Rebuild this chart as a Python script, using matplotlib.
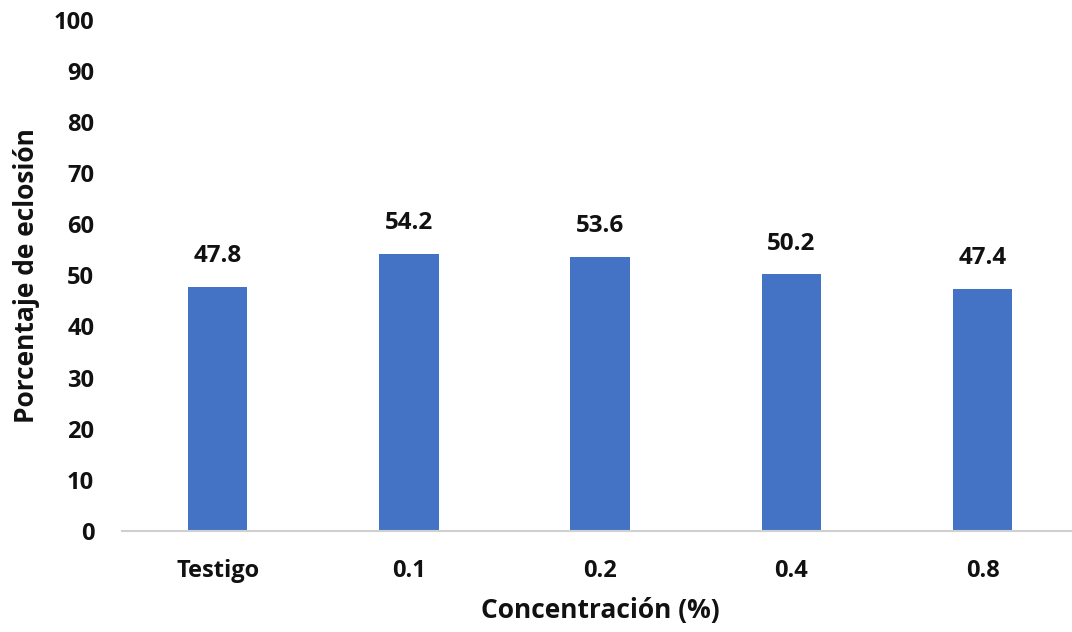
import matplotlib
matplotlib.use("Agg")
import matplotlib.pyplot as plt

categories = ["Testigo", "0.1", "0.2", "0.4", "0.8"]
values = [47.8, 54.2, 53.6, 50.2, 47.4]
yticks = [0, 10, 20, 30, 40, 50, 60, 70, 80, 90, 100]

plt.rcParams["font.family"] = ["Open Sans", "DejaVu Sans"]
plt.rcParams["font.weight"] = "bold"

fig = plt.figure(figsize=(10.72, 6.32), dpi=100)
ax = fig.add_axes([0.1138, 0.1598, 0.892, 0.8093])

x = range(len(categories))
bars = ax.bar(x, values, width=0.31, color="#4472C4", zorder=2)
for xi, v in zip(x, values):
    ax.annotate(f"{v:.1f}", (xi, v), xytext=(0, 22), textcoords="offset points",
                ha="center", va="center", fontsize=17.5, fontweight="bold", color="#111111")

ax.set_xlim(-0.5, 4.5)
ax.set_ylim(0, 100)
ax.set_yticks(yticks)
ax.set_xticks(list(x))
ax.set_xticklabels(categories)
ax.tick_params(axis="both", length=0, labelsize=17, colors="#111111")
ax.tick_params(axis="y", pad=20)
ax.tick_params(axis="x", pad=20)
for lbl in ax.get_xticklabels() + ax.get_yticklabels():
    lbl.set_fontweight("bold")

for s in ["top", "right", "left"]:
    ax.spines[s].set_visible(False)
ax.spines["bottom"].set_color("#d0d0d0")
ax.spines["bottom"].set_linewidth(1.5)

ax.set_xlabel("Concentración (%)", fontsize=19, fontweight="bold", color="#111111", labelpad=10)
ax.set_ylabel("Porcentaje de eclosión", fontsize=19, fontweight="bold", color="#111111", labelpad=10)

fig.savefig("out.png", dpi=100)
